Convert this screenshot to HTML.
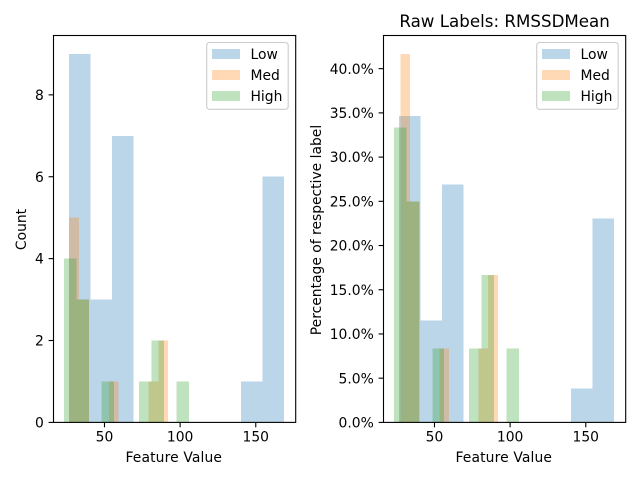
<!DOCTYPE html>
<html>
<head>
<meta charset="utf-8">
<title>Raw Labels: RMSSDMean</title>
<style>
html,body{margin:0;padding:0;background:#fff;}
svg{display:block;}
text{font-family:"DejaVu Sans","Liberation Sans",sans-serif;fill:#000;}
</style>
</head>
<body>
<svg id="chart" xmlns="http://www.w3.org/2000/svg" width="640" height="480" viewBox="0 0 640 480"></svg>
<script>
const seriesNames = ['Low', 'Med', 'High'];

const lowEdges = [26.7, 40.9, 55.1, 69.3, 83.5, 97.7, 111.9, 126.1, 140.3, 154.5, 168.7];
const medEdgesCount = [26.7, 33.2, 39.8, 46.3, 52.9, 59.4, 66.0, 72.5, 79.0, 85.6, 92.1];
const medEdgesPercent = [27.4, 33.9, 40.3, 46.8, 53.2, 59.7, 66.1, 72.6, 79.0, 85.5, 92.0];
const highEdgesCount = [23.4, 31.65, 39.9, 48.15, 56.4, 64.65, 72.9, 81.15, 89.4, 97.65, 105.9];
const highEdgesPercent = [23.4, 31.65, 39.9, 48.6, 56.4, 64.65, 72.9, 81.15, 89.4, 97.65, 105.9];

const lowCounts = [9, 3, 7, 0, 0, 0, 0, 0, 1, 6];
const medCounts = [5, 3, 0, 0, 1, 0, 0, 0, 1, 2];
const highCounts = [4, 3, 0, 1, 0, 0, 1, 2, 0, 1];

const lowPercents = [34.62, 11.54, 26.92, 0, 0, 0, 0, 0, 3.85, 23.08];
const medPercents = [41.67, 25, 0, 0, 8.33, 0, 0, 0, 8.33, 16.67];
const highPercents = [33.33, 25, 0, 8.33, 0, 0, 8.33, 16.67, 0, 8.33];

const xTicks = [50, 100, 150];
const countTicks = [0, 2, 4, 6, 8];
const percentTicks = [0, 5, 10, 15, 20, 25, 30, 35, 40];
const percentTickLabels = ['0.0%', '5.0%', '10.0%', '15.0%', '20.0%', '25.0%', '30.0%', '35.0%', '40.0%'];

const svg = document.getElementById('chart');
const NS = 'http://www.w3.org/2000/svg';
const colors = ['#1f77b4', '#ff7f0e', '#2ca02c'];
const plotTop = 35.5, plotBottom = 422.4;
const domainX = [16.3, 176.4];

function make(tag, attrs, parent) {
  const el = document.createElementNS(NS, tag);
  for (const k in attrs) el.setAttribute(k, attrs[k]);
  parent.appendChild(el);
  return el;
}

function drawPanel(cfg) {
  const g = make('g', {}, svg);
  
  

  const xScale = v => cfg.left + (v - domainX[0]) / (domainX[1] - domainX[0]) * (cfg.right - cfg.left);
  const yScale = v => plotBottom - v / cfg.yMax * (plotBottom - plotTop);

  cfg.series.forEach((s, si) => {
    s.values.forEach((v, i) => {
      if (v <= 0) return;
      const x0 = xScale(s.edges[i]);
      const x1 = xScale(s.edges[i + 1]);
      const y1 = yScale(v);
      const bar = make('rect', {
        x: x0, y: y1, width: x1 - x0, height: plotBottom - y1,
        fill: colors[si], 'fill-opacity': 0.3, 'shape-rendering': 'crispEdges'
      }, g);
      
      
    });
  });

  const frame = make('rect', {
    x: cfg.left, y: plotTop, width: cfg.right - cfg.left, height: plotBottom - plotTop,
    fill: 'none', stroke: '#000', 'stroke-width': 1.1
  }, g);
  
  

  xTicks.forEach(t => {
    const px = xScale(t);
    const tick = make('line', {
      x1: px, x2: px, y1: plotBottom, y2: plotBottom + 4.9,
      stroke: '#000', 'stroke-width': 1.1
    }, g);
    
    
    const label = make('text', {
      x: px, y: 441.5, 'text-anchor': 'middle', 'font-size': 13.89
    }, g);
    label.textContent = String(t);
    
    
  });

  cfg.yTicks.forEach((t, i) => {
    const py = yScale(t);
    const tick = make('line', {
      x1: cfg.left - 4.9, x2: cfg.left, y1: py, y2: py,
      stroke: '#000', 'stroke-width': 1.1
    }, g);
    
    
    const label = make('text', {
      x: cfg.left - 9.7, y: py + 5.1, 'text-anchor': 'end', 'font-size': 13.89
    }, g);
    label.textContent = cfg.yLabels[i];
    
    
  });

  const xTitle = make('text', {
    x: (cfg.left + cfg.right) / 2 - 0.9, y: 462, 'text-anchor': 'middle', 'font-size': 13.89,
    textLength: 96.5, lengthAdjust: 'spacing'
  }, g);
  xTitle.textContent = 'Feature Value';
  
  

  const yTitle = make('text', {
    transform: 'translate(' + cfg.yTitleX + ' ' + cfg.yTitleY + ') rotate(-90)',
    'text-anchor': 'middle', 'font-size': 13.89
  }, g);
  yTitle.textContent = cfg.yTitle;
  
  

  const legend = make('g', {}, g);
  
  
  const box = make('rect', {
    x: cfg.right - 89, y: 42.5, width: 81.5, height: 66.8, rx: 2.8, ry: 2.8,
    fill: '#fff', 'fill-opacity': 0.8, stroke: '#ccc', 'stroke-width': 1.1
  }, legend);
  
  
  seriesNames.forEach((name, i) => {
    const cy = 54 + i * 21;
    const swatch = make('rect', {
      x: cfg.right - 83.7, y: cy - 5, width: 27.8, height: 10,
      fill: colors[i], 'fill-opacity': 0.3, 'shape-rendering': 'crispEdges'
    }, legend);
    
    
    const label = make('text', {
      x: cfg.right - 45.2, y: cy + 5, 'font-size': 13.89
    }, legend);
    label.textContent = name;
    
    
  });

  if (cfg.title) {
    const title = make('text', {
      x: (cfg.left + cfg.right) / 2, y: 27, 'text-anchor': 'middle', 'font-size': 16.67,
      textLength: 210.5, lengthAdjust: 'spacing'
    }, g);
    title.textContent = cfg.title;
    
    
  }
}

drawPanel({
  name: 'count-panel',
  left: 53.5, right: 295.7, yMax: 9.45,
  yTicks: countTicks, yLabels: countTicks.map(String),
  yTitle: 'Count', yTitleX: 26, yTitleY: 229.5,
  series: [
    { edges: lowEdges, values: lowCounts },
    { edges: medEdgesCount, values: medCounts },
    { edges: highEdgesCount, values: highCounts }
  ]
});

drawPanel({
  name: 'percentage-panel',
  left: 383.5, right: 625.7, yMax: 43.75,
  yTicks: percentTicks, yLabels: percentTickLabels,
  yTitle: 'Percentage of respective label', yTitleX: 321, yTitleY: 230,
  title: 'Raw Labels: RMSSDMean',
  series: [
    { edges: lowEdges, values: lowPercents },
    { edges: medEdgesPercent, values: medPercents },
    { edges: highEdgesPercent, values: highPercents }
  ]
});
</script>
</body>
</html>
